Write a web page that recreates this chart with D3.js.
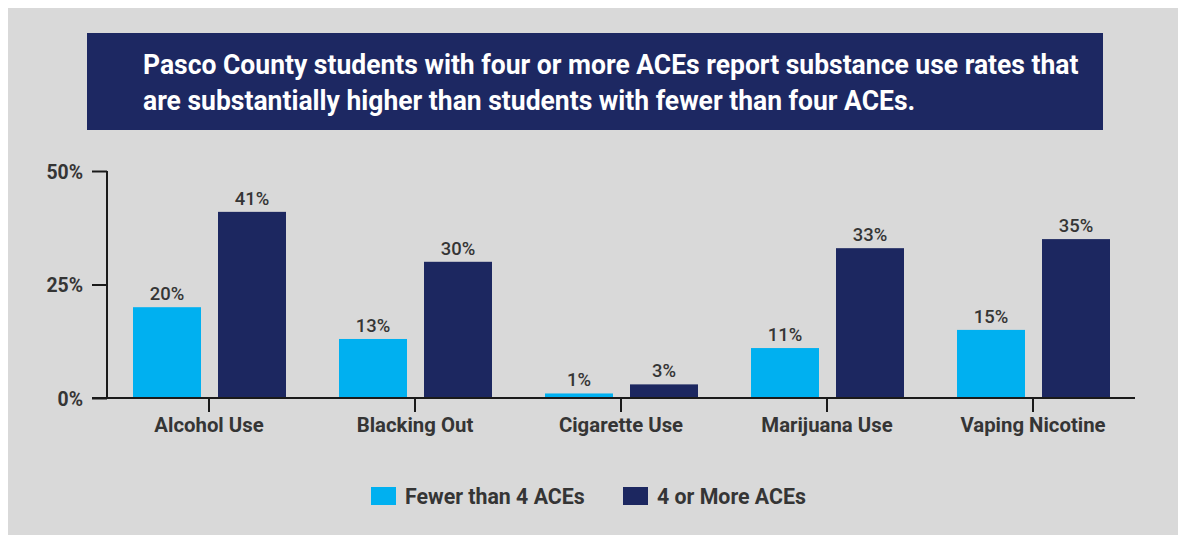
<!DOCTYPE html>
<html>
<head>
<meta charset="utf-8">
<script src="https://cdn.jsdelivr.net/npm/d3@7"></script>
<style>
  html, body { margin: 0; padding: 0; background: #fff; }
  svg { display: block; }
  text { font-family: Roboto, "Noto Sans", sans-serif; }
</style>
</head>
<body>
<svg id="chart" width="1178" height="535"></svg>
<script>
// ━━━━━━━━━━━━━━━━━━━━━━━━━━━━━━━━━━━━━━━━━━━━━━━━━━━━━━━━━━━━━━━━━━━━━━━━━━━━━━
// Data /////////////////////////////////////////////////////////////////////////
// ━━━━━━━━━━━━━━━━━━━━━━━━━━━━━━━━━━━━━━━━━━━━━━━━━━━━━━━━━━━━━━━━━━━━━━━━━━━━━━
const categories = ['Alcohol Use', 'Blacking Out', 'Cigarette Use', 'Marijuana Use', 'Vaping Nicotine'];
const series = ['Fewer than 4 ACEs', '4 or More ACEs'];
const fewerThan4 = [20, 13, 1, 11, 15];
const fourOrMore = [41, 30, 3, 33, 35];
const yTicks = [0, 25, 50];
const titleLines = [
  'Pasco County students with four or more ACEs report substance use rates that',
  'are substantially higher than students with fewer than four ACEs.'
];

const colors = { [series[0]]: '#00b0f0', [series[1]]: '#1c2760' };
const textColor = '#353535';
const squeeze = 0.97; // a touch narrower, like the condensed face

const svg = d3.select('#chart');

// page background
svg.append('rect')
  .attr('x', 8).attr('y', 8)
  .attr('width', 1170).attr('height', 527)
  .attr('fill', '#d9d9d9');

// ━━ title box ━━━━━━━━━━━━━━━━━━━━━━━━━━━━━━━━━━━━━━━━━━━━━━━━━━━━━━━━━━━━━━━━━
svg.append('rect')
  .attr('x', 87).attr('y', 33)
  .attr('width', 1016).attr('height', 97)
  .attr('fill', '#1d2862');

const titleG = svg.append('g');
const tLines = titleG.selectAll('text')
  .data(titleLines)
  .join('text')
  .attr('x', 0).attr('y', 0)
  .attr('fill', '#fff')
  .attr('font-size', 27)
  .attr('font-weight', 700)
  .text(d => d);
const natural = tLines.node().getComputedTextLength();
const titleFactor = 936 / natural;
tLines.attr('transform', (d, i) => `translate(143,${74 + i * 36}) scale(${titleFactor},1)`);

// helper: place slightly condensed text
function squeezed(sel, x, y) {
  return sel.attr('x', 0).attr('y', 0)
    .attr('transform', (d, i) => `translate(${typeof x === 'function' ? x(d, i) : x},${typeof y === 'function' ? y(d, i) : y}) scale(${squeeze},1)`);
}

// ━━ scales ━━━━━━━━━━━━━━━━━━━━━━━━━━━━━━━━━━━━━━━━━━━━━━━━━━━━━━━━━━━━━━━━━━━━
const y = d3.scaleLinear().domain([0, 50]).range([398, 171]);
const x0 = d3.scaleBand().domain(categories).range([106, 1136]);
const x1 = d3.scaleBand().domain(series).range([27, 180]).paddingInner(0.2);

// ━━ axes ━━━━━━━━━━━━━━━━━━━━━━━━━━━━━━━━━━━━━━━━━━━━━━━━━━━━━━━━━━━━━━━━━━━━━━
const yAxis = svg.append('g')
  .attr('transform', 'translate(107,0)')
  .call(d3.axisLeft(y).tickValues(yTicks).tickSize(15).tickFormat(d => d + '%'));
yAxis.select('.domain').remove();
yAxis.selectAll('line').attr('stroke', '#1a1a1a').attr('stroke-width', 2);
yAxis.selectAll('text')
  .attr('fill', textColor)
  .attr('font-size', 20)
  .attr('font-weight', 700)
  .attr('dy', '0.35em')
  .attr('x', 0)
  .attr('transform', `translate(-24,0) scale(${squeeze},1)`);
svg.append('line')
  .attr('x1', 107).attr('x2', 107)
  .attr('y1', y(50)).attr('y2', y(0))
  .attr('stroke', '#1a1a1a').attr('stroke-width', 2);

// bars
const groups = svg.append('g').selectAll('g')
  .data(categories.map((c, i) => ({ cat: c, vals: [fewerThan4[i], fourOrMore[i]] })))
  .join('g')
  .attr('transform', d => `translate(${x0(d.cat)},0)`);

groups.selectAll('rect')
  .data(d => d.vals.map((v, j) => ({ key: series[j], v })))
  .join('rect')
  .attr('x', d => x1(d.key))
  .attr('width', x1.bandwidth())
  .attr('y', d => y(d.v))
  .attr('height', d => y(0) - y(d.v))
  .attr('fill', d => colors[d.key]);

groups.selectAll('text')
  .data(d => d.vals.map((v, j) => ({ key: series[j], v })))
  .join('text')
  .attr('fill', textColor)
  .attr('font-size', 19)
  .attr('font-weight', 500)
  .attr('text-anchor', 'middle')
  .text(d => d.v + '%')
  .call(squeezed, d => x1(d.key) + x1.bandwidth() / 2, d => y(d.v) - 7);

const xAxis = svg.append('g')
  .attr('transform', `translate(0,${y(0)})`)
  .call(d3.axisBottom(x0).tickSize(14).tickPadding(6));
xAxis.select('.domain')
  .attr('d', 'M92,0H1135')
  .attr('stroke', '#1a1a1a').attr('stroke-width', 2);
xAxis.selectAll('line').attr('stroke', '#1a1a1a').attr('stroke-width', 2);
xAxis.selectAll('text')
  .attr('fill', textColor)
  .attr('font-size', 21)
  .attr('font-weight', 700)
  .attr('y', 0).attr('dy', 0)
  .attr('transform', `translate(0,34) scale(${squeeze},1)`);

// ━━ legend ━━━━━━━━━━━━━━━━━━━━━━━━━━━━━━━━━━━━━━━━━━━━━━━━━━━━━━━━━━━━━━━━━━━━
const legendX = [371, 623];
const legend = svg.append('g').selectAll('g')
  .data(series)
  .join('g')
  .attr('transform', (d, i) => `translate(${legendX[i]},487)`);
legend.append('rect')
  .attr('width', 25).attr('height', 18)
  .attr('fill', d => colors[d]);
legend.append('text')
  .attr('fill', textColor)
  .attr('font-size', 22)
  .attr('font-weight', 700)
  .text(d => d)
  .call(squeezed, 34, 17);
</script>
</body>
</html>
